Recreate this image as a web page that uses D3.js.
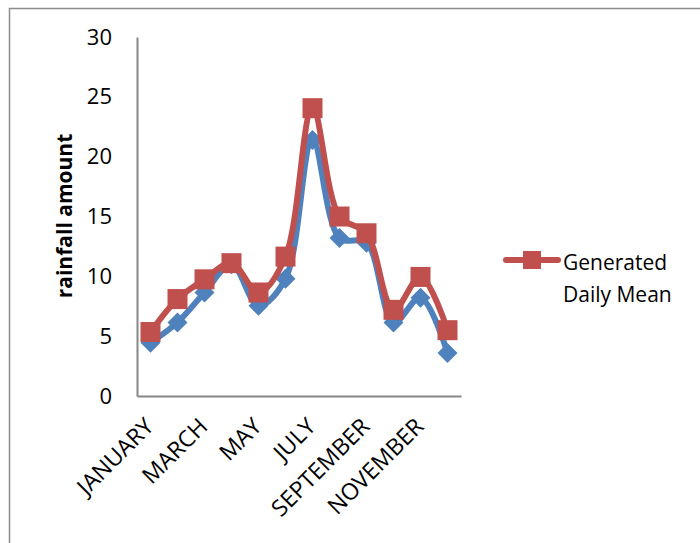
<!DOCTYPE html>
<html>
<head>
<meta charset="utf-8">
<script src="https://cdn.jsdelivr.net/npm/d3@7"></script>
<style>
  body { margin: 0; background: #fff; }
  text { font-family: "Open Sans", "Noto Sans", sans-serif; fill: #000; }
</style>
</head>
<body>
<svg id="chart" width="700" height="543"></svg>
<script>
const months = ["JANUARY","FEBRUARY","MARCH","APRIL","MAY","JUNE","JULY","AUGUST","SEPTEMBER","OCTOBER","NOVEMBER","DECEMBER"];
const tickLabels = ["JANUARY","MARCH","MAY","JULY","SEPTEMBER","NOVEMBER"];
const yTicks = [0, 5, 10, 15, 20, 25, 30];
const observed = [4.45, 6.15, 8.65, 11.0, 7.55, 9.8, 21.4, 13.2, 12.8, 6.15, 8.2, 3.6];
const generated = [5.35, 8.1, 9.75, 11.1, 8.65, 11.65, 24.05, 15.0, 13.6, 7.2, 9.95, 5.5];

const margin = { top: 37, right: 239, bottom: 147, left: 137 };
const width = 700, height = 543;

const $svg = d3.select("#chart");

// Outer frame
$svg.append("rect")
    .attr("x", 9.5).attr("y", 8.5)
    .attr("width", 720).attr("height", 600)
    .attr("fill", "none")
    .attr("stroke", "#8c8c8c")
    .attr("stroke-width", 1.5);

const x = d3.scalePoint()
    .domain(months)
    .range([margin.left, width - margin.right])
    .padding(0.5);

const y = d3.scaleLinear()
    .domain([0, 30])
    .range([height - margin.bottom, margin.top]);

// Axes
const xAxis = d3.axisBottom(x).tickValues(tickLabels).tickSize(0).tickPadding(0);
const yAxis = d3.axisLeft(y).tickValues(yTicks).tickSize(0).tickPadding(25);

const $x = $svg.append("g")
    .attr("transform", `translate(0,${height - margin.bottom})`)
    .call(xAxis);
$x.select(".domain").attr("stroke", "#868686").attr("stroke-width", 2);
$x.selectAll("text")
    .attr("font-size", 23)
    .attr("text-anchor", "end")
    .attr("dy", 0)
    .attr("y", 0)
    .attr("transform", "translate(4,32) rotate(-45)");

const $y = $svg.append("g")
    .attr("transform", `translate(${margin.left},0)`)
    .call(yAxis);
$y.select(".domain").attr("stroke", "#868686").attr("stroke-width", 2);
$y.selectAll("text").attr("font-size", 22);

// Axis title
$svg.append("text")
    .attr("transform", "translate(72,216) rotate(-90)")
    .attr("text-anchor", "middle")
    .attr("font-size", 21)
    .attr("font-weight", "bold")
    .text("rainfall amount");

const line = d3.line()
    .x((d, i) => x(months[i]))
    .y(d => y(d))
    .curve(d3.curveCatmullRom.alpha(0.5));

// Observed series (blue, diamonds)
$svg.append("path")
    .datum(observed)
    .attr("d", line)
    .attr("fill", "none")
    .attr("stroke", "#4f81bd")
    .attr("stroke-width", 6)
    .attr("stroke-linejoin", "round");

$svg.append("g").selectAll("path")
    .data(observed)
    .join("path")
    .attr("d", d3.symbol(d3.symbolSquare, 200)())
    .attr("transform", (d, i) => `translate(${x(months[i])},${y(d)}) rotate(45)`)
    .attr("fill", "#4f81bd");

// Generated series (red, squares)
$svg.append("path")
    .datum(generated)
    .attr("d", line)
    .attr("fill", "none")
    .attr("stroke", "#c0504d")
    .attr("stroke-width", 6)
    .attr("stroke-linejoin", "round");

$svg.append("g").selectAll("rect")
    .data(generated)
    .join("rect")
    .attr("x", (d, i) => x(months[i]) - 10)
    .attr("y", d => y(d) - 10)
    .attr("width", 20).attr("height", 20)
    .attr("fill", "#c0504d");

// Legend
const $legend = $svg.append("g").attr("transform", "translate(505,260)");
$legend.append("line")
    .attr("x1", 1).attr("x2", 53)
    .attr("stroke", "#c0504d").attr("stroke-width", 6)
    .attr("stroke-linecap", "round");
$legend.append("rect")
    .attr("x", 18).attr("y", -9).attr("width", 18).attr("height", 18)
    .attr("fill", "#c0504d");
$legend.append("text")
    .attr("x", 58).attr("y", 10)
    .attr("font-size", 21)
    .text("Generated");
$legend.append("text")
    .attr("x", 58).attr("y", 42)
    .attr("font-size", 21)
    .text("Daily Mean");
</script>
</body>
</html>
